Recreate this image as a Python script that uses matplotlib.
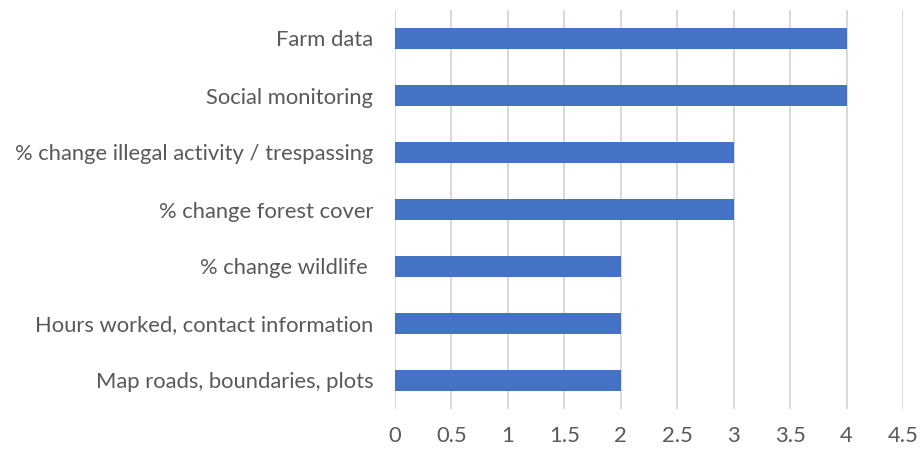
import matplotlib.pyplot as plt

# Data (top to bottom as shown in the chart)
categories = [
    'Farm data',
    'Social monitoring',
    '% change illegal activity / trespassing',
    '% change forest cover',
    '% change wildlife ',
    'Hours worked, contact information',
    'Map roads, boundaries, plots',
]
counts = [4, 4, 3, 3, 2, 2, 2]
x_ticks = [0, 0.5, 1, 1.5, 2, 2.5, 3, 3.5, 4, 4.5]
x_tick_labels = ['0', '0.5', '1', '1.5', '2', '2.5', '3', '3.5', '4', '4.5']

plt.rcParams['font.family'] = ['Lato', 'DejaVu Sans']

fig = plt.figure(figsize=(9.21, 4.57), dpi=100)
ax = fig.add_axes([395 / 921, 48 / 457, 508 / 921, 399 / 457])

positions = list(range(len(categories)))[::-1]
ax.barh(positions, counts, height=0.355, color='#4472C4', zorder=3)

ax.set_xlim(0, 4.5)
ax.set_ylim(-0.5, len(categories) - 0.5)
ax.set_xticks(x_ticks)
ax.set_xticklabels(x_tick_labels)
ax.set_yticks(positions)
ax.set_yticklabels(categories)

ax.grid(axis='x', color='#d9d9d9', linewidth=1.4, zorder=0)
for s in ax.spines.values():
    s.set_visible(False)
ax.tick_params(axis='both', length=0, labelsize=15.8, labelcolor='#595959')
ax.tick_params(axis='y', pad=15.5)
ax.tick_params(axis='x', pad=12)

fig.savefig('out.png', dpi=100)
